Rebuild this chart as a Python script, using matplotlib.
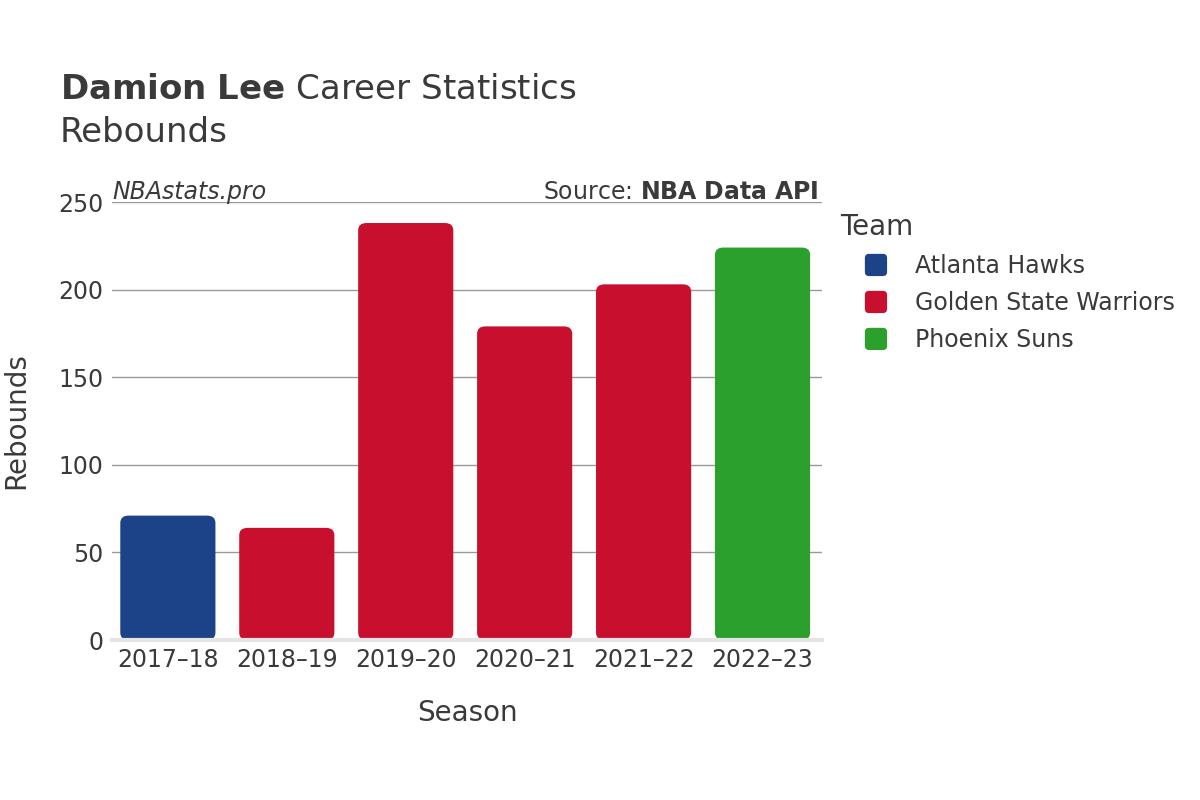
import matplotlib
matplotlib.use("Agg")
import matplotlib.pyplot as plt
from matplotlib.patches import FancyBboxPatch, Rectangle
from matplotlib.legend_handler import HandlerPatch

seasons = ["2017\u201318", "2018\u201319", "2019\u201320", "2020\u201321", "2021\u201322", "2022\u201323"]
rebounds = [71, 64, 238, 179, 203, 224]
teams = ["Atlanta Hawks", "Golden State Warriors", "Golden State Warriors",
         "Golden State Warriors", "Golden State Warriors", "Phoenix Suns"]
team_names = ["Atlanta Hawks", "Golden State Warriors", "Phoenix Suns"]
team_colors = {"Atlanta Hawks": "#1c4288", "Golden State Warriors": "#c8102e", "Phoenix Suns": "#2ca02c"}

txt = "#3a3a3a"
plt.rcParams['font.family'] = ['DejaVu Sans']

fig = plt.figure(figsize=(12, 8), dpi=100)
ax = fig.add_axes([0.0933, 0.2, 0.5917, 0.5475])

x = list(range(len(seasons)))
bars = ax.bar(x, rebounds, width=0.8, color=[team_colors[t] for t in teams])
# replace with rounded-top bars
for b in bars:
    b.set_visible(False)
    p = FancyBboxPatch((b.get_x(), 0), b.get_width(), b.get_height(),
                       boxstyle="round,pad=0,rounding_size=0.07",
                       mutation_aspect=60, facecolor=b.get_facecolor(),
                       edgecolor="none", zorder=2)
    ax.add_patch(p)

ax.set_xlim(-0.47, 5.5)
ax.set_ylim(0, 250)
ax.set_yticks([0, 50, 100, 150, 200, 250])
ax.set_xticks(x)
ax.set_xticklabels(seasons)
ax.yaxis.grid(True, color="#999999", linewidth=1)
ax.set_axisbelow(True)
for s in ["left", "right", "top"]:
    ax.spines[s].set_visible(False)
ax.spines["bottom"].set_color("#e5e5e5")
ax.spines["bottom"].set_linewidth(3)
ax.spines["bottom"].set_zorder(3)
ax.tick_params(axis="both", length=0, labelsize=17, colors=txt)
ax.tick_params(axis="x", pad=6)
ax.tick_params(axis="y", pad=6)

ax.set_xlabel("Season", fontsize=20, color=txt, labelpad=19)
ax.set_ylabel("Rebounds", fontsize=20, color=txt)
ax.yaxis.set_label_coords(-0.115, 0.5)

ax.text(0.0, 0.996, "NBAstats.pro", transform=ax.transAxes, fontsize=17,
        style="italic", color=txt, ha="left", va="bottom")
ax.text(0.995, 0.996, r"Source: $\bf{NBA\ Data\ API}$", transform=ax.transAxes, fontsize=17,
        color=txt, ha="right", va="bottom")

fig.text(0.05, 0.888, r"$\bf{Damion\ Lee}$ Career Statistics", fontsize=24.5, color=txt,
         ha="left", va="center")
fig.text(0.05, 0.834, "Rebounds", fontsize=24.5, color=txt, ha="left", va="center")


class RoundSquare(HandlerPatch):
    def create_artists(self, legend, orig_handle, xdescent, ydescent, width, height, fontsize, trans):
        s = 16
        cx = -xdescent + width / 2 + 10
        cy = -ydescent + height / 2
        p = FancyBboxPatch((cx - s / 2, cy - s / 2), s, s,
                           boxstyle="round,pad=0,rounding_size=3",
                           facecolor=orig_handle.get_facecolor(), edgecolor="none",
                           transform=trans)
        return [p]


handles = [Rectangle((0, 0), 1, 1, facecolor=team_colors[t]) for t in team_names]
leg = fig.legend(handles, team_names, title="Team", loc="upper left",
                 bbox_to_anchor=(0.682, 0.76), frameon=False, fontsize=17,
                 title_fontsize=20, labelcolor=txt, handletextpad=1.3,
                 handlelength=1.9, labelspacing=0.55,
                 handler_map={Rectangle: RoundSquare()})
leg.get_title().set_color(txt)
leg._legend_box.align = "left"

fig.savefig("out.png", dpi=100)
